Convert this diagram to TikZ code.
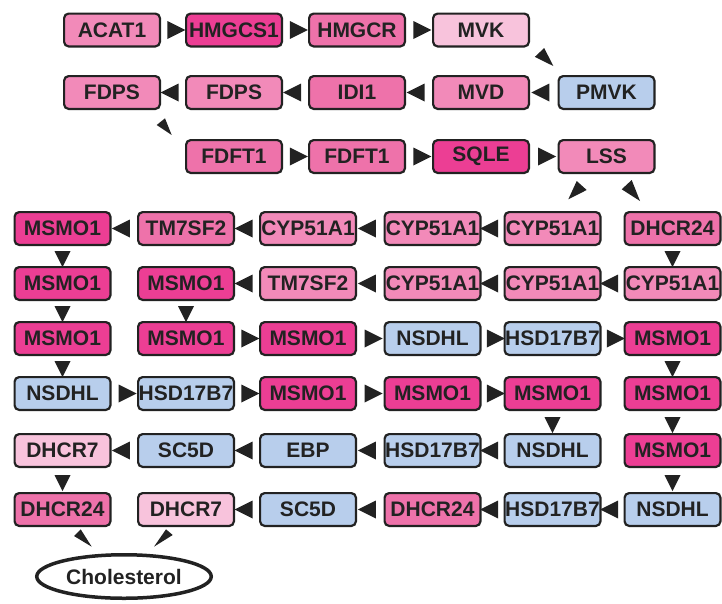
\documentclass[tikz,border=0pt]{standalone}
\usepackage{fontspec}
\setmainfont{Liberation Sans}
\usetikzlibrary{shapes.geometric}
\definecolor{cHot}{HTML}{EC3E94}
\definecolor{cDeep}{HTML}{EE72AA}
\definecolor{cMed}{HTML}{F28AB9}
\definecolor{cLight}{HTML}{F8C3DC}
\definecolor{cBlue}{HTML}{B8CEEC}
\definecolor{cLine}{HTML}{222222}
\begin{document}
\begin{tikzpicture}[x=1pt,y=-1pt,
  gene/.style={draw=cLine, line width=2.2pt, rounded corners=4.5pt,
    minimum width=95.8pt, minimum height=32.8pt, inner sep=0pt,
    text=cLine, font=\fontsize{21}{21}\selectfont\bfseries},
  hot/.style={gene, fill=cHot},
  deep/.style={gene, fill=cDeep},
  med/.style={gene, fill=cMed},
  light/.style={gene, fill=cLight},
  blue/.style={gene, fill=cBlue},
  trishape/.style={isosceles triangle, isosceles triangle stretches, fill=cLine, draw=none,
    inner sep=0pt, outer sep=0pt, anchor=center},
  tri/.style={trishape, minimum width=18pt, minimum height=18pt, sloped, allow upside down},
  vtri/.style={tri, minimum width=16pt, minimum height=16pt},
  dhead/.style={fill=cLine},
  ]
\useasboundingbox (0,0) rectangle (722,603);

% upper part
\node[med]   (acat)  at (112,30) {ACAT1};
\node[hot]   (hmgcs) at (234,30) {HMGCS1};
\node[deep]  (hmgcr) at (357,30) {HMGCR};
\node[light] (mvk)   at (481,30) {MVK};

\node[med]   (fdpsA) at (112,92.5) {FDPS};
\node[med]   (fdpsB) at (234,92.5) {FDPS};
\node[deep]  (idi)   at (357,92.5) {IDI1};
\node[med]   (mvd)   at (481,92.5) {MVD};
\node[blue]  (pmvk)  at (606.5,92.5) {PMVK};

\node[deep]  (fdftA) at (234,156.5) {FDFT1};
\node[deep]  (fdftB) at (357,156.5) {FDFT1};
\node[hot]   (sqle)  at (481,156.5) {SQLE};
\node[med]   (lss)   at (606.5,156.5) {LSS};

% lower grid
\node[hot]  (n41) at (62.5,228.5) {MSMO1};
\node[deep] (n42) at (186,228.5) {TM7SF2};
\node[med]  (n43) at (308,228.5) {CYP51A1};
\node[med]  (n44) at (432.5,228.5) {CYP51A1};
\node[med]  (n45) at (552.5,228.5) {CYP51A1};
\node[deep] (n46) at (672.5,228.5) {DHCR24};

\node[hot]  (n51) at (62.5,283.5) {MSMO1};
\node[hot]  (n52) at (186,283.5) {MSMO1};
\node[med]  (n53) at (308,283.5) {TM7SF2};
\node[med]  (n54) at (432.5,283.5) {CYP51A1};
\node[med]  (n55) at (552.5,283.5) {CYP51A1};
\node[med]  (n56) at (672.5,283.5) {CYP51A1};

\node[hot]  (n61) at (62.5,338.5) {MSMO1};
\node[hot]  (n62) at (186,338.5) {MSMO1};
\node[hot]  (n63) at (308,338.5) {MSMO1};
\node[blue] (n64) at (432.5,338.5) {NSDHL};
\node[blue] (n65) at (552.5,338.5) {HSD17B7};
\node[hot]  (n66) at (672.5,338.5) {MSMO1};

\node[blue] (n71) at (62.5,393.5) {NSDHL};
\node[blue] (n72) at (186,393.5) {HSD17B7};
\node[hot]  (n73) at (308,393.5) {MSMO1};
\node[hot]  (n74) at (432.5,393.5) {MSMO1};
\node[hot]  (n75) at (552.5,393.5) {MSMO1};
\node[hot]  (n76) at (672.5,393.5) {MSMO1};

\node[light] (n81) at (62.5,450.5) {DHCR7};
\node[blue]  (n82) at (186,450.5) {SC5D};
\node[blue]  (n83) at (308,450.5) {EBP};
\node[blue]  (n84) at (432.5,450.5) {HSD17B7};
\node[blue]  (n85) at (552.5,450.5) {NSDHL};
\node[hot]   (n86) at (672.5,450.5) {MSMO1};

\node[deep]  (n91) at (62.5,509.5) {DHCR24};
\node[light] (n92) at (186,509.5) {DHCR7};
\node[blue]  (n93) at (308,509.5) {SC5D};
\node[deep]  (n94) at (432.5,509.5) {DHCR24};
\node[blue]  (n95) at (552.5,509.5) {HSD17B7};
\node[blue]  (n96) at (672.5,509.5) {NSDHL};

\node[ellipse, draw=cLine, line width=3.5pt, minimum width=174.5pt, minimum height=43.5pt,
      inner sep=0pt, text=cLine, font=\fontsize{21}{21}\selectfont\bfseries]
      (chol) at (124,576.5) {Cholesterol};

% upper arrows
\path (acat.east) -- node[tri] {} (hmgcs.west);
\path (hmgcs.east) -- node[tri] {} (hmgcr.west);
\path (hmgcr.east) -- node[tri] {} (mvk.west);
% MVK -> PMVK (diagonal head)
\fill[dhead] ([shift={(14.2,0.5)}]mvk.south east) -- ([shift={(4.8,9.4)}]mvk.south east)
  -- ([shift={(23.3,18.5)}]mvk.south east) -- cycle;
\path (pmvk.west) -- node[tri] {} (mvd.east);
\path (mvd.west) -- node[tri] {} (idi.east);
\path (idi.west) -- node[tri] {} (fdpsB.east);
\path (fdpsB.west) -- node[tri] {} (fdpsA.east);
% FDPS -> FDFT1 (diagonal head)
\fill[dhead] ([shift={(-4.3,15)}]fdpsA.south east) -- ([shift={(4,8.3)}]fdpsA.south east)
  -- ([shift={(10.7,25)}]fdpsA.south east) -- cycle;
\path (fdftA.east) -- node[tri] {} (fdftB.west);
\path (fdftB.east) -- node[tri] {} (sqle.west);
\path (sqle.east) -- node[tri] {} (lss.west);
% LSS -> CYP51A1 and LSS -> DHCR24 (diagonal heads)
\fill[dhead] ([shift={(-29.8,7)}]lss.south) -- ([shift={(-19.8,16)}]lss.south)
  -- ([shift={(-38.2,25.3)}]lss.south) -- cycle;
\fill[dhead] ([shift={(25.2,6)}]lss.south) -- ([shift={(15.2,15.3)}]lss.south)
  -- ([shift={(33.5,27)}]lss.south) -- cycle;

% row 4
\path (n45.west) -- node[tri] {} (n44.east);
\path (n44.west) -- node[tri] {} (n43.east);
\path (n43.west) -- node[tri] {} (n42.east);
\path (n42.west) -- node[tri] {} (n41.east);
\path (n46.south) -- node[vtri] {} (n56.north);
\path (n41.south) -- node[vtri] {} (n51.north);
% row 5
\path (n56.west) -- node[tri] {} (n55.east);
\path (n55.west) -- node[tri] {} (n54.east);
\path (n54.west) -- node[tri] {} (n53.east);
\path (n53.west) -- node[tri] {} (n52.east);
\path (n51.south) -- node[vtri] {} (n61.north);
\path (n52.south) -- node[vtri] {} (n62.north);
% row 6
\path (n62.east) -- node[tri] {} (n63.west);
\path (n63.east) -- node[tri] {} (n64.west);
\path (n64.east) -- node[tri] {} (n65.west);
\path (n65.east) -- node[tri] {} (n66.west);
\path (n61.south) -- node[vtri] {} (n71.north);
\path (n66.south) -- node[vtri] {} (n76.north);
% row 7
\path (n71.east) -- node[tri] {} (n72.west);
\path (n72.east) -- node[tri] {} (n73.west);
\path (n73.east) -- node[tri] {} (n74.west);
\path (n74.east) -- node[tri] {} (n75.west);
\path (n75.south) -- node[vtri] {} (n85.north);
\path (n76.south) -- node[vtri] {} (n86.north);
% row 8
\path (n85.west) -- node[tri] {} (n84.east);
\path (n84.west) -- node[tri] {} (n83.east);
\path (n83.west) -- node[tri] {} (n82.east);
\path (n82.west) -- node[tri] {} (n81.east);
\path (n81.south) -- node[vtri] {} (n91.north);
\path (n86.south) -- node[vtri] {} (n96.north);
% row 9
\path (n96.west) -- node[tri] {} (n95.east);
\path (n95.west) -- node[tri] {} (n94.east);
\path (n94.west) -- node[tri] {} (n93.east);
\path (n93.west) -- node[tri] {} (n92.east);
% DHCR24 -> Cholesterol, DHCR7 -> Cholesterol (diagonal heads)
\fill[dhead] ([shift={(18.2,2.3)}]n91.south) -- ([shift={(11.5,9)}]n91.south)
  -- ([shift={(29.2,19.7)}]n91.south) -- cycle;
\fill[dhead] ([shift={(-20,2.3)}]n92.south) -- ([shift={(-13.3,8)}]n92.south)
  -- ([shift={(-32,19.7)}]n92.south) -- cycle;
\end{tikzpicture}
\end{document}
